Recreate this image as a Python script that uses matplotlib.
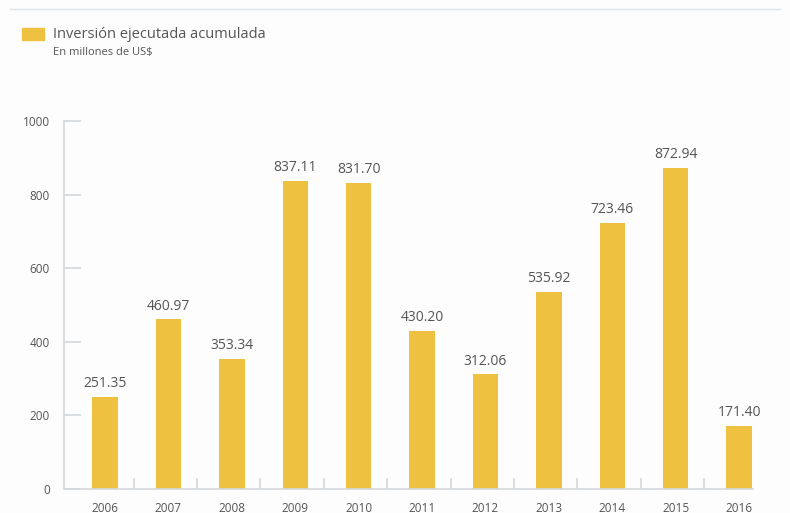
import matplotlib
matplotlib.use("Agg")
import matplotlib.pyplot as plt
from matplotlib.patches import Rectangle
from matplotlib.lines import Line2D

years = ["2006", "2007", "2008", "2009", "2010", "2011", "2012", "2013", "2014", "2015", "2016"]
values = [251.35, 460.97, 353.34, 837.11, 831.70, 430.20, 312.06, 535.92, 723.46, 872.94, 171.40]
yticks = [0, 200, 400, 600, 800, 1000]

BAR = "#EFC140"
TXT = "#555555"
AX = "#D5D8DC"

plt.rcParams["font.family"] = ["Open Sans", "DejaVu Sans"]

fig = plt.figure(figsize=(7.9, 5.13), dpi=100)
fig.patch.set_facecolor("#FDFDFD")

W, H = 790, 513
x0, x1 = 64, 753
yb, yt = 489, 121
ax = fig.add_axes([x0 / W, (H - yb) / H, (x1 - x0) / W, (yb - yt) / H])
ax.set_facecolor("none")

pos = list(range(len(years)))
ax.bar(pos, values, width=0.4, color=BAR, zorder=2)
for p, v in zip(pos, values):
    ax.annotate(f"{v:.2f}", (p, v), xytext=(0, 4), textcoords="offset points",
                ha="center", va="bottom", fontsize=10, color=TXT)

ax.set_xlim(-0.647, 10.22)
ax.set_ylim(0, 1000)

for s in ["top", "right"]:
    ax.spines[s].set_visible(False)
for s in ["left", "bottom"]:
    ax.spines[s].set_color(AX)
    ax.spines[s].set_linewidth(1.2)

ax.set_yticks(yticks)
ax.set_yticklabels([str(t) for t in yticks])
ax.tick_params(axis="y", direction="in", length=12, color=AX, width=1.2,
               labelsize=8.5, labelcolor=TXT, pad=10)
ax.set_xticks(pos)
ax.set_xticklabels(years)
ax.tick_params(axis="x", length=0, labelsize=8.5, labelcolor=TXT, pad=9)
ax.set_xticks([p + 0.45 for p in pos[:-1]], minor=True)
ax.tick_params(axis="x", which="minor", direction="in", length=8, color=AX, width=1.2)

# top rule
fig.add_artist(Line2D([10 / W, 780 / W], [1 - 9 / H, 1 - 9 / H], color="#DCE3EA", lw=1))

# legend
fig.add_artist(Rectangle((22 / W, 1 - 40 / H), 22 / W, 12 / H, color=BAR, transform=fig.transFigure))
fig.text(53 / W, 1 - 34 / H, "Inversión ejecutada acumulada", fontsize=10.5, color=TXT, va="center")
fig.text(53 / W, 1 - 52 / H, "En millones de US$", fontsize=8, color=TXT, va="center")

fig.savefig("out.png", dpi=100, facecolor=fig.get_facecolor())
